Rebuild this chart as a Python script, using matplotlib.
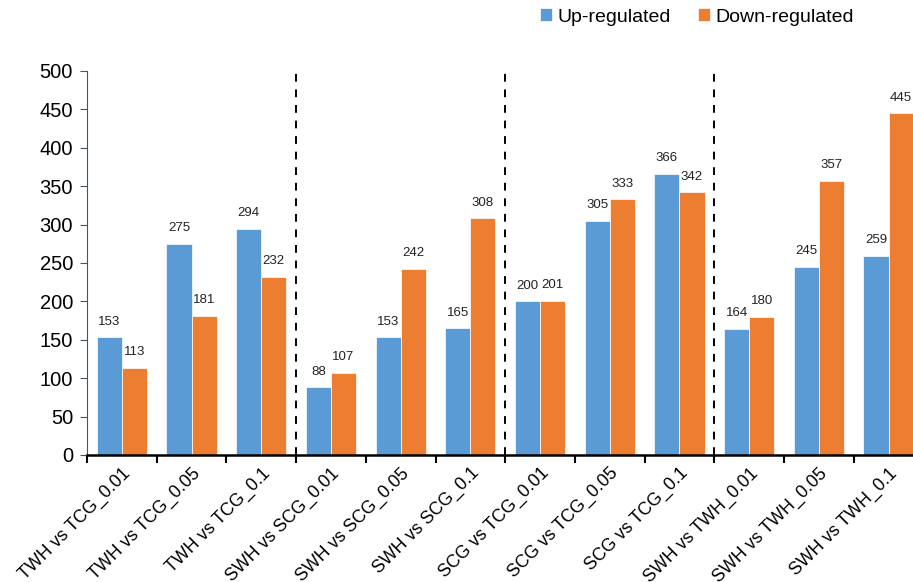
import matplotlib
matplotlib.use("Agg")
import matplotlib.pyplot as plt
import numpy as np

categories = ["TWH vs TCG_0.01", "TWH vs TCG_0.05", "TWH vs TCG_0.1",
              "SWH vs SCG_0.01", "SWH vs SCG_0.05", "SWH vs SCG_0.1",
              "SCG vs TCG_0.01", "SCG vs TCG_0.05", "SCG vs TCG_0.1",
              "SWH vs TWH_0.01", "SWH vs TWH_0.05", "SWH vs TWH_0.1"]
up = [153, 275, 294, 88, 153, 165, 200, 305, 366, 164, 245, 259]
down = [113, 181, 232, 107, 242, 308, 201, 333, 342, 180, 357, 445]
separators = [2.5, 5.5, 8.5]
yticks = list(range(0, 501, 50))

plt.rcParams['font.family'] = ['Liberation Sans', 'DejaVu Sans']

fig = plt.figure(figsize=(9.13, 5.82), dpi=100)
ax = fig.add_axes([87/913, 1-455/582, 12*69.7/913, 384/582])

x = np.arange(len(categories))
w = 0.36
blue = "#5B9BD5"
orange = "#ED7D31"
b1 = ax.bar(x - w/2, up, w, color=blue, edgecolor="white", linewidth=0.5, label="Up-regulated")
b2 = ax.bar(x + w/2, down, w, color=orange, edgecolor="white", linewidth=0.5, label="Down-regulated")
for bars in (b1, b2):
    for r in bars:
        ax.annotate(f"{int(r.get_height())}", (r.get_x() + r.get_width()/2, r.get_height()),
                    xytext=(0, 7), textcoords="offset points", ha="center", va="bottom",
                    fontsize=9.5, color="#222222")

for s in separators:
    ax.plot([s, s], [0, 500], ls=(0, (4, 4)), color="black", lw=1.4)

ax.set_xlim(-0.5, 11.5)
ax.set_ylim(0, 500)
ax.set_yticks(yticks)
ax.tick_params(axis="y", labelsize=14.5, direction="out", length=5, color="#44546A", pad=5)
ax.set_xticks(x)
ax.set_xticklabels(categories, rotation=45, ha="right", rotation_mode="anchor", fontsize=12.8)
ax.tick_params(axis="x", length=0, pad=7)
ax.set_xticks(np.arange(-0.5, 12, 1), minor=True)
ax.tick_params(axis="x", which="minor", length=6, direction="out", width=1.5, color="black")
for sp in ("top", "right"):
    ax.spines[sp].set_visible(False)
ax.spines["left"].set_color("#44546A")
ax.spines["bottom"].set_linewidth(1.8)

fig.legend(handles=[b1, b2], loc="center", bbox_to_anchor=(697/913, 1-17/582), ncol=2,
           frameon=False, fontsize=14, handlelength=0.6, handleheight=0.6,
           handletextpad=0.3, columnspacing=1.4)

fig.savefig("out.png", dpi=100)
